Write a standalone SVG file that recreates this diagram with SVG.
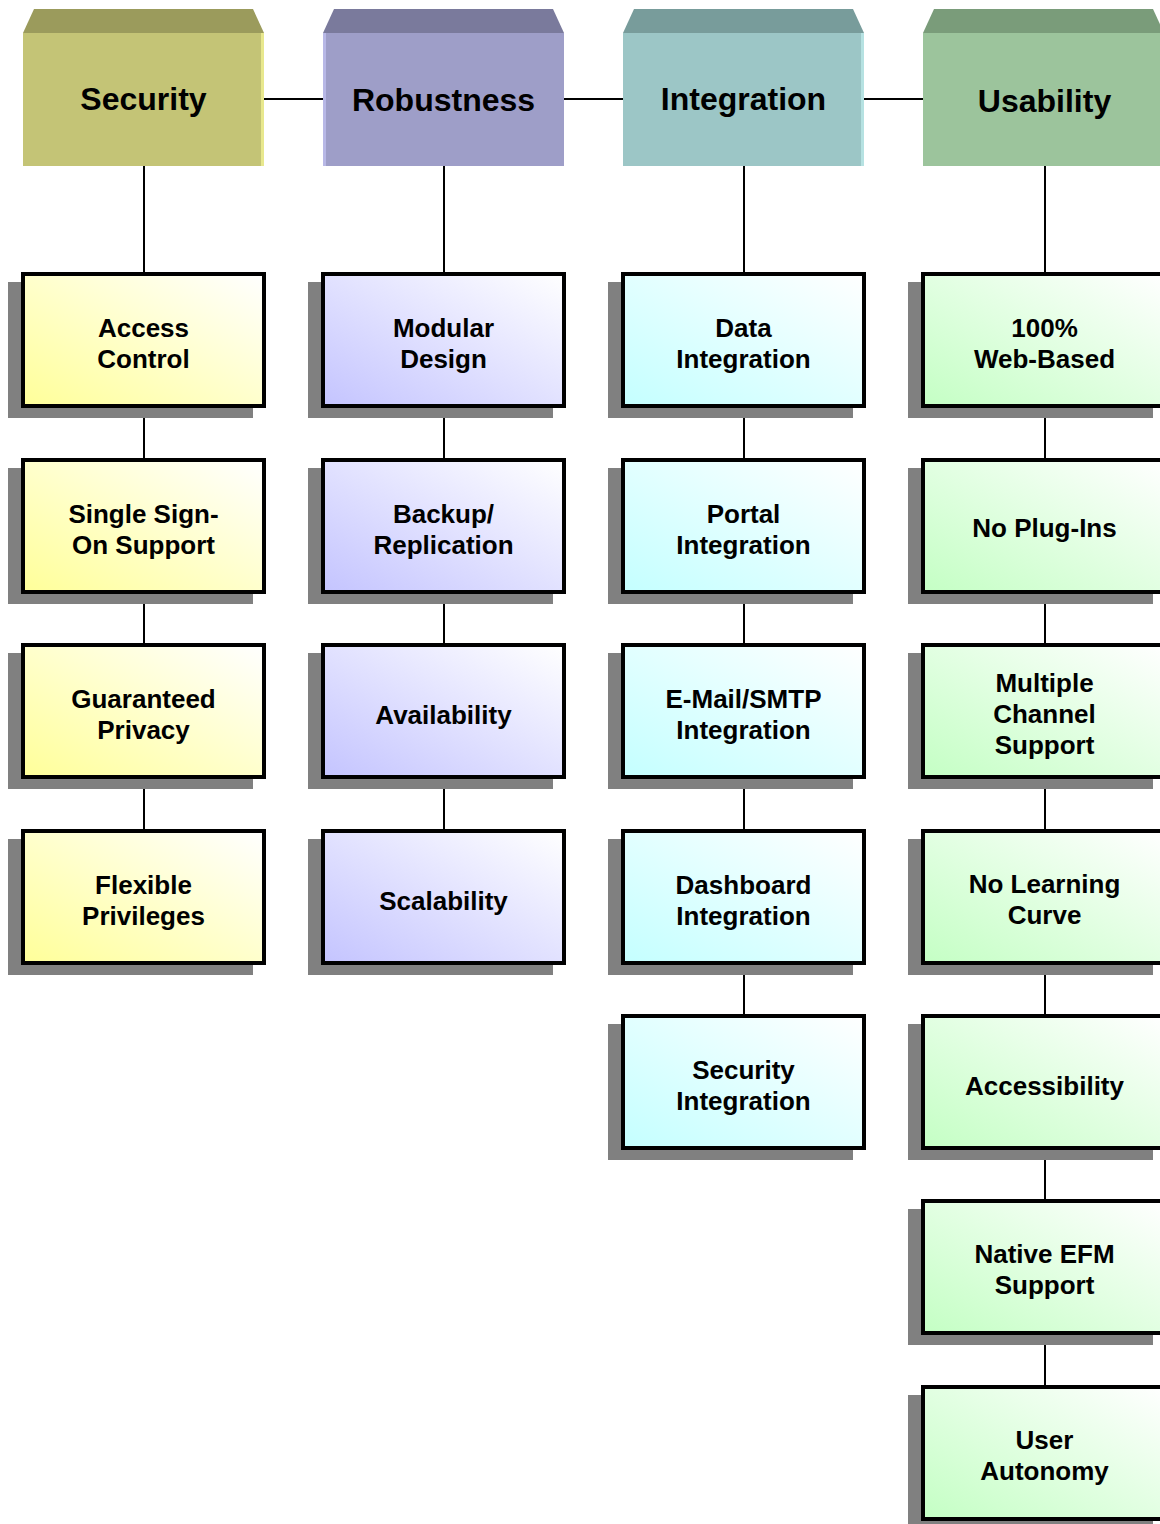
<svg xmlns="http://www.w3.org/2000/svg" width="1160" height="1524" viewBox="0 0 1160 1524">
<style>
.hd{font-family:"Liberation Sans",Arial,sans-serif;font-weight:bold;font-size:32px;fill:#000;text-anchor:middle}
.tx{font-family:"Liberation Sans",Arial,sans-serif;font-weight:bold;font-size:26px;fill:#000;text-anchor:middle}
.sh{fill:#808080}
.bx{stroke:#000;stroke-width:4}
.cn{stroke:#000;stroke-width:2;fill:none}
</style>
<defs>
<linearGradient id="gY" x1="0" y1="1" x2="1" y2="0"><stop offset="0" stop-color="#ffff99"/><stop offset="1" stop-color="#ffffff"/></linearGradient>
<linearGradient id="gP" x1="0" y1="1" x2="1" y2="0"><stop offset="0" stop-color="#c4c4ff"/><stop offset="1" stop-color="#ffffff"/></linearGradient>
<linearGradient id="gC" x1="0" y1="1" x2="1" y2="0"><stop offset="0" stop-color="#c4ffff"/><stop offset="1" stop-color="#ffffff"/></linearGradient>
<linearGradient id="gG" x1="0" y1="1" x2="1" y2="0"><stop offset="0" stop-color="#c4ffc4"/><stop offset="1" stop-color="#ffffff"/></linearGradient>
</defs>
<rect width="1160" height="1524" fill="#fff"/>
<g id="connectors">
<line class="cn" x1="264" y1="99" x2="323" y2="99"/>
<line class="cn" x1="564" y1="99" x2="623" y2="99"/>
<line class="cn" x1="864" y1="99" x2="923" y2="99"/>
<line class="cn" x1="144" y1="166" x2="144" y2="831"/>
<line class="cn" x1="444" y1="166" x2="444" y2="831"/>
<line class="cn" x1="744" y1="166" x2="744" y2="1016"/>
<line class="cn" x1="1045" y1="166" x2="1045" y2="1387"/>
</g>
<g id="h-security">
<polygon points="23,33 34,9 253,9 264,33" fill="#9b9b5c"/>
<rect x="23" y="33" width="241" height="133" fill="#c4c476"/>
<rect x="261" y="33" width="3" height="133" fill="#e8e88e"/>
<text class="hd" x="143.5" y="110">Security</text>
</g>
<g id="h-robustness">
<polygon points="323,33 334,9 553,9 564,33" fill="#7a7a9c"/>
<rect x="323" y="33" width="241" height="133" fill="#9e9ec8"/>
<rect x="323" y="33" width="3" height="133" fill="#b8b8e6"/>
<text class="hd" x="443.5" y="111">Robustness</text>
</g>
<g id="h-integration">
<polygon points="623,33 634,9 853,9 864,33" fill="#789c9b"/>
<rect x="623" y="33" width="241" height="133" fill="#9cc6c6"/>
<rect x="861" y="33" width="3" height="133" fill="#b6e2e2"/>
<text class="hd" x="743.5" y="110">Integration</text>
</g>
<g id="h-usability">
<polygon points="923,33 934,9 1153,9 1164,33" fill="#7a9c7a"/>
<rect x="923" y="33" width="241" height="133" fill="#9cc49c"/>
<text class="hd" x="1044.5" y="112">Usability</text>
</g>

<g id="n-access-control"><rect class="sh" x="8" y="282" width="245" height="136"/><rect class="bx" x="23" y="274" width="241" height="132" fill="url(#gY)"/><text class="tx" x="143.5" y="336.5">Access</text><text class="tx" x="143.5" y="367.5">Control</text></g>
<g id="n-sso"><rect class="sh" x="8" y="468" width="245" height="136"/><rect class="bx" x="23" y="460" width="241" height="132" fill="url(#gY)"/><text class="tx" x="143.5" y="522.5">Single Sign-</text><text class="tx" x="143.5" y="553.5">On Support</text></g>
<g id="n-privacy"><rect class="sh" x="8" y="653" width="245" height="136"/><rect class="bx" x="23" y="645" width="241" height="132" fill="url(#gY)"/><text class="tx" x="143.5" y="707.5">Guaranteed</text><text class="tx" x="143.5" y="738.5">Privacy</text></g>
<g id="n-privileges"><rect class="sh" x="8" y="839" width="245" height="136"/><rect class="bx" x="23" y="831" width="241" height="132" fill="url(#gY)"/><text class="tx" x="143.5" y="893.5">Flexible</text><text class="tx" x="143.5" y="924.5">Privileges</text></g>

<g id="n-modular"><rect class="sh" x="308" y="282" width="245" height="136"/><rect class="bx" x="323" y="274" width="241" height="132" fill="url(#gP)"/><text class="tx" x="443.5" y="336.5">Modular</text><text class="tx" x="443.5" y="367.5">Design</text></g>
<g id="n-backup"><rect class="sh" x="308" y="468" width="245" height="136"/><rect class="bx" x="323" y="460" width="241" height="132" fill="url(#gP)"/><text class="tx" x="443.5" y="522.5">Backup/</text><text class="tx" x="443.5" y="553.5">Replication</text></g>
<g id="n-availability"><rect class="sh" x="308" y="653" width="245" height="136"/><rect class="bx" x="323" y="645" width="241" height="132" fill="url(#gP)"/><text class="tx" x="443.5" y="724">Availability</text></g>
<g id="n-scalability"><rect class="sh" x="308" y="839" width="245" height="136"/><rect class="bx" x="323" y="831" width="241" height="132" fill="url(#gP)"/><text class="tx" x="443.5" y="910">Scalability</text></g>

<g id="n-data"><rect class="sh" x="608" y="282" width="245" height="136"/><rect class="bx" x="623" y="274" width="241" height="132" fill="url(#gC)"/><text class="tx" x="743.5" y="336.5">Data</text><text class="tx" x="743.5" y="367.5">Integration</text></g>
<g id="n-portal"><rect class="sh" x="608" y="468" width="245" height="136"/><rect class="bx" x="623" y="460" width="241" height="132" fill="url(#gC)"/><text class="tx" x="743.5" y="522.5">Portal</text><text class="tx" x="743.5" y="553.5">Integration</text></g>
<g id="n-email"><rect class="sh" x="608" y="653" width="245" height="136"/><rect class="bx" x="623" y="645" width="241" height="132" fill="url(#gC)"/><text class="tx" x="743.5" y="707.5">E-Mail/SMTP</text><text class="tx" x="743.5" y="738.5">Integration</text></g>
<g id="n-dashboard"><rect class="sh" x="608" y="839" width="245" height="136"/><rect class="bx" x="623" y="831" width="241" height="132" fill="url(#gC)"/><text class="tx" x="743.5" y="893.5">Dashboard</text><text class="tx" x="743.5" y="924.5">Integration</text></g>
<g id="n-secint"><rect class="sh" x="608" y="1024" width="245" height="136"/><rect class="bx" x="623" y="1016" width="241" height="132" fill="url(#gC)"/><text class="tx" x="743.5" y="1078.5">Security</text><text class="tx" x="743.5" y="1109.5">Integration</text></g>

<g id="n-web"><rect class="sh" x="908" y="282" width="245" height="136"/><rect class="bx" x="923" y="274" width="241" height="132" fill="url(#gG)"/><text class="tx" x="1044.5" y="336.5">100%</text><text class="tx" x="1044.5" y="367.5">Web-Based</text></g>
<g id="n-plugins"><rect class="sh" x="908" y="468" width="245" height="136"/><rect class="bx" x="923" y="460" width="241" height="132" fill="url(#gG)"/><text class="tx" x="1044.5" y="537">No Plug-Ins</text></g>
<g id="n-multichannel"><rect class="sh" x="908" y="653" width="245" height="136"/><rect class="bx" x="923" y="645" width="241" height="132" fill="url(#gG)"/><text class="tx" x="1044.5" y="692">Multiple</text><text class="tx" x="1044.5" y="723">Channel</text><text class="tx" x="1044.5" y="754">Support</text></g>
<g id="n-learning"><rect class="sh" x="908" y="839" width="245" height="136"/><rect class="bx" x="923" y="831" width="241" height="132" fill="url(#gG)"/><text class="tx" x="1044.5" y="892.5">No Learning</text><text class="tx" x="1044.5" y="923.5">Curve</text></g>
<g id="n-accessibility"><rect class="sh" x="908" y="1024" width="245" height="136"/><rect class="bx" x="923" y="1016" width="241" height="132" fill="url(#gG)"/><text class="tx" x="1044.5" y="1095">Accessibility</text></g>
<g id="n-efm"><rect class="sh" x="908" y="1209" width="245" height="136"/><rect class="bx" x="923" y="1201" width="241" height="132" fill="url(#gG)"/><text class="tx" x="1044.5" y="1262.5">Native EFM</text><text class="tx" x="1044.5" y="1293.5">Support</text></g>
<g id="n-autonomy"><rect class="sh" x="908" y="1395" width="245" height="136"/><rect class="bx" x="923" y="1387" width="241" height="132" fill="url(#gG)"/><text class="tx" x="1044.5" y="1449">User</text><text class="tx" x="1044.5" y="1480">Autonomy</text></g>
</svg>
